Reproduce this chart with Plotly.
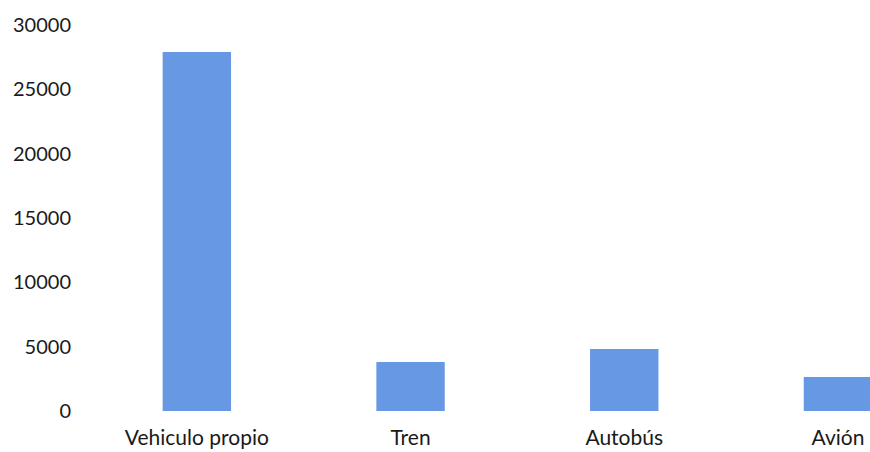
import plotly.graph_objects as go

categories = ["Vehiculo propio", "Tren", "Autobús", "Avión"]
values = [27900, 3800, 4820, 2640]
y_ticks = [0, 5000, 10000, 15000, 20000, 25000, 30000]

fig = go.Figure(go.Bar(x=categories, y=values, marker_color="#6698E4", marker_line_width=0, width=0.32))

fig.update_layout(
    width=870, height=452,
    margin=dict(l=90, r=0, t=25, b=41),
    paper_bgcolor="white", plot_bgcolor="white",
    font=dict(family="Lato, Noto Sans, sans-serif", size=20, color="#1a1a1a"),
    showlegend=False,
    xaxis=dict(range=[-0.5, 3.15], showgrid=False, zeroline=False, showline=False,
               ticks="", ticklabelstandoff=12, tickfont=dict(size=21)),
    yaxis=dict(range=[0, 30000], tickvals=y_ticks, tickformat="d", showgrid=False, zeroline=False,
               showline=False, ticks="", ticklabelstandoff=18),
)

fig.write_html("out.html")
